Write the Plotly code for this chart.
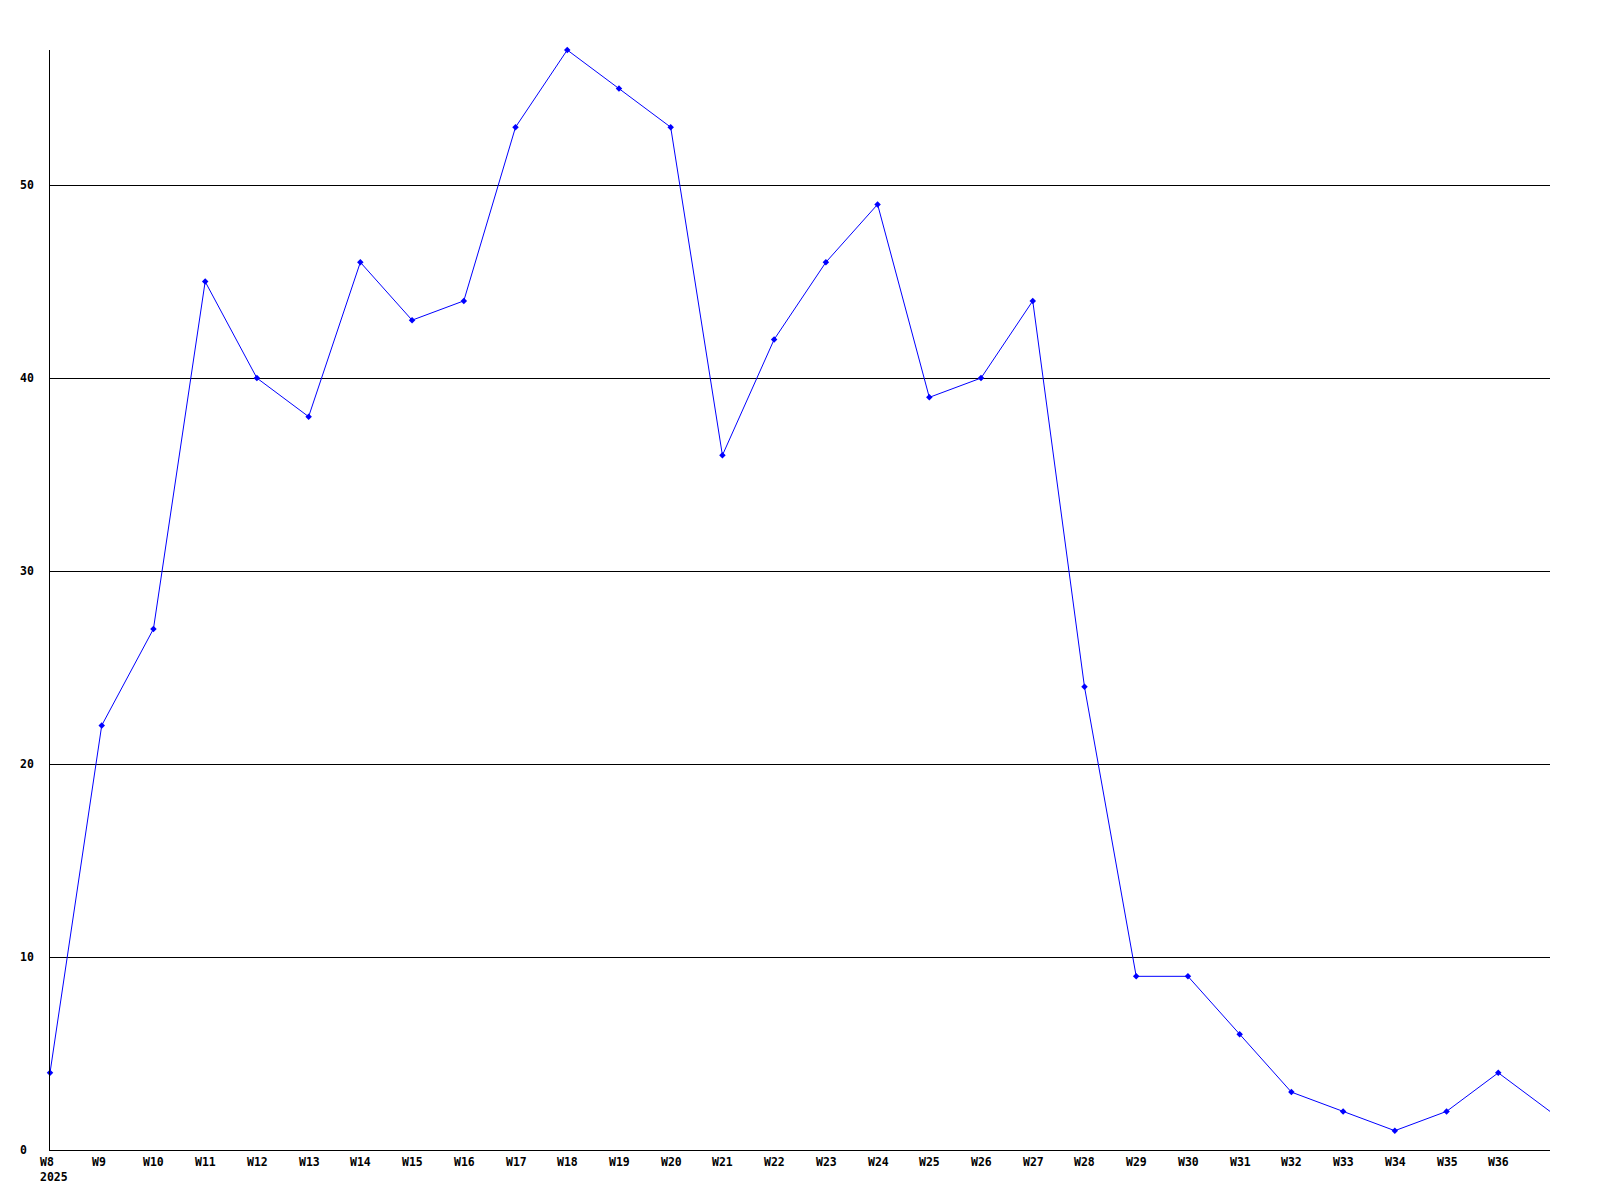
import plotly.graph_objects as go

weeks = ["W8", "W9", "W10", "W11", "W12", "W13", "W14", "W15", "W16", "W17",
         "W18", "W19", "W20", "W21", "W22", "W23", "W24", "W25", "W26", "W27",
         "W28", "W29", "W30", "W31", "W32", "W33", "W34", "W35", "W36", "W37"]
values = [4, 22, 27, 45, 40, 38, 46, 43, 44, 53,
          57, 55, 53, 36, 42, 46, 49, 39, 40, 44,
          24, 9, 9, 6, 3, 2, 1, 2, 4, 2]
year_label = "2025"
y_ticks = [0, 10, 20, 30, 40, 50]

xs = list(range(len(weeks)))
font = dict(family="DejaVu Sans Mono", size=11.5, color="black", weight="bold")

fig = go.Figure()
fig.add_trace(go.Scatter(
    x=xs, y=values, mode="lines",
    line=dict(color="#0000ff", width=1),
    hoverinfo="skip", showlegend=False, cliponaxis=False,
))
fig.add_trace(go.Scatter(
    x=xs[:-1], y=values[:-1], mode="markers",
    marker=dict(color="#0000ff", symbol="diamond", size=5),
    showlegend=False, cliponaxis=False,
))

fig.update_layout(
    width=1600, height=1200,
    margin=dict(l=42, r=58, t=42, b=58, autoexpand=False),
    plot_bgcolor="white", paper_bgcolor="white",
    xaxis=dict(
        range=[0, len(weeks) - 1],
        tickvals=xs[:-1], showticklabels=False,
        showgrid=False, zeroline=False,
        showline=True, linecolor="black", linewidth=1,
        ticks="", automargin=False,
    ),
    yaxis=dict(
        range=[0, max(values)],
        tickvals=y_ticks, showticklabels=False,
        showgrid=True, gridcolor="black", gridwidth=1,
        zeroline=False,
        showline=True, linecolor="black", linewidth=1,
        ticks="", automargin=False,
    ),
)
for v in y_ticks:
    fig.add_annotation(
        x=0, y=v, xref="paper", yref="y", text=str(v), showarrow=False,
        xanchor="left", yanchor="middle", xshift=-32, font=font,
    )
for i, w in zip(xs[:-1], weeks[:-1]):
    fig.add_annotation(
        x=i, y=0, xref="x", yref="y", text=w, showarrow=False,
        xanchor="left", yanchor="middle", xshift=-12, yshift=-12, font=font,
    )
fig.add_annotation(
    x=0, y=0, xref="x", yref="y", text=year_label, showarrow=False,
    xanchor="left", yanchor="middle", xshift=-12, yshift=-27, font=font,
)

fig.write_html("out.html")
